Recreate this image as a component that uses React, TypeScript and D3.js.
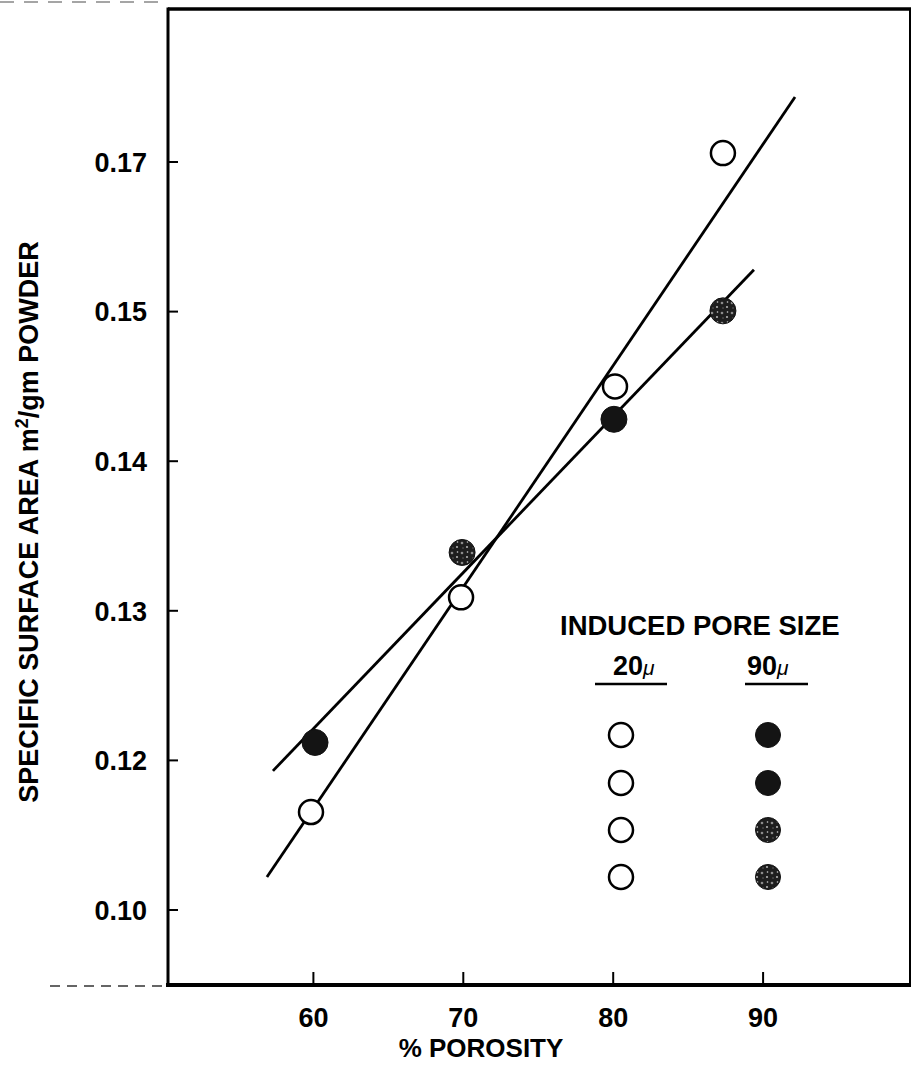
import React from 'react';
import * as d3 from 'd3';

// axis ticks as printed on the figure (labels are evenly spaced even though values are not)
const xTicks = [60, 70, 80, 90];
const yTicks = [0.1, 0.12, 0.13, 0.14, 0.15, 0.17];
const yTickLabels = ['0.10', '0.12', '0.13', '0.14', '0.15', '0.17'];

// 20 micron induced pores (open circles)
const porosity20 = [59.84, 69.85, 80.12, 87.32];
const area20 = [0.1131, 0.1309, 0.145, 0.1712];

// 90 micron induced pores (filled circles)
const porosity90 = [60.11, 69.92, 80.05, 87.32];
const area90 = [0.1212, 0.1339, 0.1428, 0.1501];
const tone90 = ['solid', 'speckled', 'solid', 'speckled'];

// hand-drawn fit lines, [porosity, area] at each end
const fit20: [number, number][] = [[56.9, 0.1044], [92.13, 0.1787]];
const fit90: [number, number][] = [[57.3, 0.1186], [89.39, 0.1556]];

const legendTones20 = ['open', 'open', 'open', 'open'];
const legendTones90 = ['solid', 'solid', 'speckled', 'speckled'];

const W = 911, H = 1065;
const margin = { left: 168, right: 910, top: 9, bottom: 985 };
const tickTop = 162, tickBottom = 910;
const font = "'Liberation Sans', Arial, Helvetica, sans-serif";

export default function App() {
  const x = d3.scaleLinear().domain([50.3, 99.8]).range([margin.left, margin.right]);
  const step = (tickBottom - tickTop) / (yTicks.length - 1);
  const y = d3.scaleLinear().domain(yTicks).range(yTicks.map((_, i) => tickBottom - i * step));

  const line = d3.line<[number, number]>().x(d => x(d[0])).y(d => y(d[1]));

  const fillFor = (t: string) => t === 'solid' ? '#141414' : t === 'speckled' ? 'url(#speckle)' : '#fff';

  const legendRows = [735, 783, 830, 877];

  return (
    <div style={{ position: 'absolute', left: 0, top: 0 }}>
      <svg width={W} height={H} style={{ display: 'block', background: '#fff' }} fontFamily={font}>
        <defs>
          <pattern id="speckle" patternUnits="userSpaceOnUse" width="10" height="10">
            <rect width="10" height="10" fill="#1e1e1e" />
            <circle cx="2" cy="3" r="1.3" fill="#8c8c8c" />
            <circle cx="7" cy="7" r="1.1" fill="#b0b0b0" />
            <circle cx="7.5" cy="2" r="0.8" fill="#d0d0d0" />
            <circle cx="3" cy="8" r="0.7" fill="#707070" />
          </pattern>
        </defs>

        {/* scan edge dashes */}
        <line x1={0} x2={margin.left} y1={2} y2={2} stroke="#888" strokeWidth={1.5} strokeDasharray="14 10" />
        <line x1={50} x2={margin.left} y1={986} y2={986} stroke="#333" strokeWidth={1.5} strokeDasharray="10 7" />

        {/* frame */}
        <g stroke="#000" fill="none">
          <line x1={margin.left} x2={W} y1={margin.top} y2={margin.top} strokeWidth={3.5} />
          <line x1={margin.left} x2={margin.left} y1={margin.top - 1.5} y2={margin.bottom} strokeWidth={3} />
          <line x1={margin.right} x2={margin.right} y1={margin.top} y2={margin.bottom} strokeWidth={2} />
          <line x1={margin.left - 2} x2={W} y1={margin.bottom} y2={margin.bottom} strokeWidth={4} />
        </g>

        {/* y ticks */}
        <g>
          {yTicks.map((t, i) => (
            <g key={t}>
              <line x1={margin.left} x2={margin.left + 10} y1={y(t)} y2={y(t)} stroke="#000" strokeWidth={2} />
              <text x={margin.left - 21} y={y(t)} dy="0.36em" textAnchor="end" fontSize={27} fontWeight="bold">{yTickLabels[i]}</text>
            </g>
          ))}
        </g>

        {/* x ticks */}
        <g>
          {xTicks.map(t => (
            <g key={t}>
              <line x1={x(t)} x2={x(t)} y1={margin.bottom} y2={margin.bottom - 13} stroke="#000" strokeWidth={2} />
              <text x={x(t)} y={1027} textAnchor="middle" fontSize={27} fontWeight="bold">{t}</text>
            </g>
          ))}
        </g>

        {/* axis titles */}
        <text x={481} y={1057} textAnchor="middle" fontSize={26} fontWeight="bold">% POROSITY</text>
        <text transform="translate(38,522) rotate(-90)" textAnchor="middle" fontSize={27} fontWeight="bold">
          SPECIFIC SURFACE AREA m<tspan dy={-10} fontSize={18}>2</tspan><tspan dy={10}>/gm POWDER</tspan>
        </text>

        {/* fit lines */}
        <path d={line(fit20) || ''} stroke="#000" strokeWidth={2.8} fill="none" />
        <path d={line(fit90) || ''} stroke="#000" strokeWidth={2.8} fill="none" />

        {/* data points */}
        {porosity20.map((p, i) => (
          <circle key={'o' + i} cx={x(p)} cy={y(area20[i])} r={12} fill="#fff" stroke="#000" strokeWidth={2.5} />
        ))}
        {porosity90.map((p, i) => (
          <circle key={'f' + i} cx={x(p)} cy={y(area90[i])} r={13} fill={fillFor(tone90[i])} stroke="#111" strokeWidth={1} />
        ))}

        {/* legend */}
        <text x={560} y={635} fontSize={27.5} fontWeight="bold">INDUCED PORE SIZE</text>
        <text x={613} y={675} fontSize={27} fontWeight="bold">20<tspan fontSize={21} fontStyle="italic" fontWeight="normal">μ</tspan></text>
        <text x={747} y={675} fontSize={27} fontWeight="bold">90<tspan fontSize={21} fontStyle="italic" fontWeight="normal">μ</tspan></text>
        <line x1={595} x2={667} y1={684} y2={684} stroke="#000" strokeWidth={2.5} />
        <line x1={745} x2={808} y1={684} y2={684} stroke="#000" strokeWidth={2.5} />
        {legendRows.map((ry, i) => (
          <g key={'l' + i}>
            <circle cx={621} cy={ry} r={12} fill={fillFor(legendTones20[i])} stroke="#000" strokeWidth={2.5} />
            <circle cx={768} cy={ry} r={12.5} fill={fillFor(legendTones90[i])} stroke="#111" strokeWidth={1} />
          </g>
        ))}
      </svg>
    </div>
  );
}
